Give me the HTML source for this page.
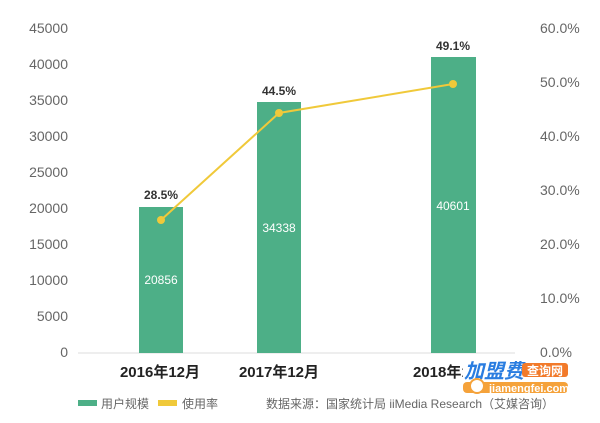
<!DOCTYPE html>
<html><head><meta charset="utf-8"><style>
body{margin:0;background:#fff;}
svg text{font-family:"Liberation Sans","Noto Sans CJK SC",sans-serif;}
</style></head><body>
<svg width="600" height="418" xmlns="http://www.w3.org/2000/svg">
<rect width="600" height="418" fill="#fff"/>
<g font-size="14" fill="#666" text-anchor="end">
<text x="68" y="357">0</text>
<text x="68" y="321">5000</text>
<text x="68" y="285">10000</text>
<text x="68" y="249">15000</text>
<text x="68" y="213">20000</text>
<text x="68" y="177">25000</text>
<text x="68" y="141">30000</text>
<text x="68" y="105">35000</text>
<text x="68" y="69">40000</text>
<text x="68" y="33">45000</text>
</g>
<g font-size="14" fill="#666" text-anchor="start">
<text x="540" y="357">0.0%</text>
<text x="540" y="303">10.0%</text>
<text x="540" y="249">20.0%</text>
<text x="540" y="195">30.0%</text>
<text x="540" y="141">40.0%</text>
<text x="540" y="87">50.0%</text>
<text x="540" y="33">60.0%</text>
</g>
<line x1="78" y1="353" x2="515" y2="353" stroke="#ddd" stroke-width="1"/>
<rect x="139" y="207" width="44" height="146" fill="#4daf87"/>
<rect x="257" y="102" width="44" height="251" fill="#4daf87"/>
<rect x="431" y="57" width="45" height="296" fill="#4daf87"/>
<g font-size="12" fill="#fff" text-anchor="middle">
<text x="161" y="284">20856</text>
<text x="279" y="232">34338</text>
<text x="453" y="210">40601</text>
</g>
<polyline points="161,220 279,113 453,84" fill="none" stroke="#f0c93a" stroke-width="2"/>
<circle cx="161" cy="220" r="4" fill="#f0c93a"/>
<circle cx="279" cy="113" r="4" fill="#f0c93a"/>
<circle cx="453" cy="84" r="4" fill="#f0c93a"/>
<g font-size="12" fill="#333" font-weight="bold" text-anchor="middle">
<text x="161" y="199">28.5%</text>
<text x="279" y="95">44.5%</text>
<text x="453" y="50">49.1%</text>
</g>
<g font-size="15" fill="#222" font-weight="bold" text-anchor="middle">
<text x="160" y="377">2016年12月</text>
<text x="279" y="377">2017年12月</text>
<text x="453" y="377">2018年12月</text>
</g>
<rect x="78" y="400" width="19" height="6" fill="#4daf87"/>
<text x="101" y="408" font-size="12" fill="#666">用户规模</text>
<rect x="158" y="400" width="19" height="6" fill="#f0c93a"/>
<text x="182" y="408" font-size="12" fill="#666">使用率</text>
<text x="266" y="408" font-size="12" fill="#666">数据来源：国家统计局 iiMedia Research（艾媒咨询）</text>
<rect x="463" y="357" width="108" height="39" fill="#fff"/>
<text x="464" y="378" font-size="20" font-weight="bold" fill="#2a7de0" font-style="italic">加盟费</text>
<rect x="522" y="363" width="46" height="14" rx="3" fill="#f27a2a"/>
<text x="545" y="375" font-size="12" font-weight="bold" fill="#fff" text-anchor="middle">查询网</text>
<rect x="463" y="382" width="105" height="11" rx="4" fill="#f5a23a"/>
<circle cx="477" cy="386" r="7" fill="#fff" stroke="#f5a23a" stroke-width="2"/>
<text x="489" y="392" font-size="11" font-weight="bold" fill="#fff">jiamengfei.com</text>
</svg>
</body></html>
